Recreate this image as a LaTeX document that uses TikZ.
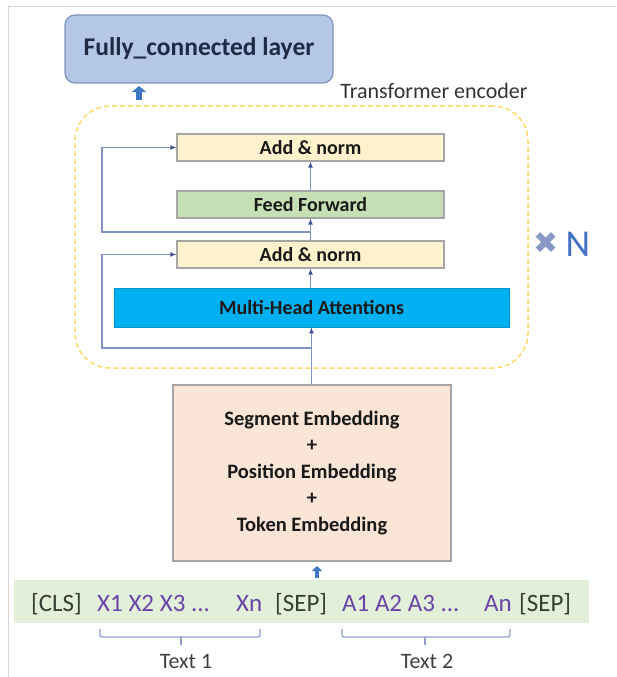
\documentclass[tikz,border=0pt]{standalone}
\usepackage{fontspec}
\setmainfont{Carlito}
\newfontfamily\symfont{DejaVu Sans}
\usetikzlibrary{arrows.meta,positioning}
\definecolor{framegray}{HTML}{D4D4D4}
\definecolor{fcfill}{HTML}{B4C7E7}
\definecolor{fcdraw}{HTML}{7F95BA}
\definecolor{fctext}{HTML}{1F2A44}
\definecolor{gold}{HTML}{FFD966}
\definecolor{anfill}{HTML}{FFF2CC}
\definecolor{fffill}{HTML}{C5E0B4}
\definecolor{mhfill}{HTML}{00B0F0}
\definecolor{embfill}{HTML}{FBE5D6}
\definecolor{boxdraw}{HTML}{A6A6A6}
\definecolor{bandfill}{HTML}{E2F0D9}
\definecolor{lineblue}{HTML}{8094CA}
\definecolor{tipblue}{HTML}{3F5393}
\definecolor{bigblue}{HTML}{3F78C4}
\definecolor{tokpurple}{HTML}{6A44A8}
\definecolor{tokdark}{HTML}{344034}
\definecolor{xgray}{HTML}{8799C4}
\definecolor{nblue}{HTML}{4472C4}
\definecolor{brk}{HTML}{8E9FC9}
\begin{document}
\begin{tikzpicture}[x=1pt,y=-1pt,
  lbl/.style={font=\fontsize{20}{24}\selectfont\bfseries, text=black!90},
  layerbox/.style={lbl, draw=boxdraw, line width=1.1pt, inner sep=0pt},
  conn/.style={draw=lineblue, line width=1.2pt, -{Latex[length=6pt,width=5pt,color=tipblue]}},
  bluearrow/.style={draw=bigblue, line width=6pt, -{Triangle[width=14pt,length=6pt]}},
  tok/.style={anchor=base west, inner sep=0pt, font=\fontsize{25}{28}\selectfont},
  brace/.style={draw=brk, line width=1.3pt, rounded corners=2pt}
]
\useasboundingbox (0,0) rectangle (616,677);
\fill[white] (0,0) rectangle (616,677);
\draw[framegray, line width=1pt] (8,677) -- (8,7) -- (616,7);

% fully connected
\node[draw=fcdraw, fill=fcfill, line width=1.2pt, rounded corners=10pt,
  minimum width=268pt, minimum height=68pt, inner sep=0pt,
  font=\fontsize{25.5}{28}\selectfont\bfseries, text=fctext] (fc) at (199,49) {Fully\_connected layer};
\coordinate (fa1) at (139,100);
\coordinate (fa2) at (139,86);
\draw[bluearrow] (fa1) -- (fa2);

% encoder frame
\node[draw=gold, dashed, dash pattern=on 5pt off 3pt, line width=1.5pt, rounded corners=35pt,
  minimum width=453pt, minimum height=262pt, inner sep=0pt] (enc) at (301.5,237) {};
\node[font=\fontsize{22}{25}\selectfont, text=black!80, inner sep=0pt] (enclbl) at (434,91) {Transformer encoder};
\node[font=\fontsize{30}{32}\selectfont\symfont, text=xgray, inner sep=0pt] (times) at (546,243) {✖};
\node[font=\fontsize{38}{40}\selectfont, text=nblue, inner sep=0pt] (nn) at (578,244) {N};

% layers
\node[layerbox, fill=anfill, minimum width=267pt, minimum height=27pt] (an2) at (310.5,147.5) {Add \& norm};
\node[layerbox, fill=fffill, minimum width=267pt, minimum height=27pt] (ff) at (310.5,204.5) {Feed Forward};
\node[layerbox, fill=anfill, minimum width=267pt, minimum height=27pt] (an1) at (310.5,254.5) {Add \& norm};
\node[lbl, fill=mhfill, draw=mhfill!85!black, line width=0.6pt, inner sep=0pt, minimum width=395pt, minimum height=39pt] (mha) at (311.5,307.5) {Multi-Head Attentions};

% embedding
\node[layerbox, fill=embfill, line width=1.4pt, minimum width=278pt, minimum height=176pt, align=center,
  font=\fontsize{20.5}{26.5}\selectfont\bfseries] (emb) at (312,473) {Segment Embedding\\+\\Position Embedding\\+\\Token Embedding};

% connectors
\draw[conn] (emb.north -| mha.south) -- (mha.south);
\draw[conn] (mha.north -| an1.south) -- (an1.south);
\draw[conn] (an1.north) -- (ff.south);
\draw[conn] (ff.north) -- (an2.south);
\coordinate (r1) at (311,348);
\coordinate (r1c) at (102,348);
\coordinate (r2) at (311,232);
\coordinate (r2c) at (102,232);
\draw[conn] (r1) -- (r1c) |- (an1.west);
\draw[conn] (r2) -- (r2c) |- (an2.west);

% input band
\node[fill=bandfill, minimum width=575pt, minimum height=43pt, inner sep=0pt] (band) at (301.5,601.5) {};
\coordinate (ea1) at (317,578);
\coordinate (ea2) at (317,566);
\draw[bigblue, line width=3.5pt, -{Triangle[width=10pt,length=5pt]}] (ea1) -- (ea2);
\node[tok, text=tokdark] (cls) at (31,611) {[CLS]};
\node[tok, text=tokpurple] (xs) at (97,611) {X1 X2 X3 ...};
\node[tok, text=tokpurple] (xn) at (236,611) {Xn};
\node[tok, text=tokdark] (sep1) at (275,611) {[SEP]};
\node[tok, text=tokpurple] (as) at (342,611) {A1 A2 A3 ...};
\node[tok, text=tokpurple] (an) at (484,611) {An};
\node[tok, text=tokdark] (sep2) at (519,611) {[SEP]};

% braces
\draw[brace] (100,629) -- (100,637) -- (260,637) -- (260,629);
\draw[brace] (181,637) -- (181,645);
\draw[brace] (342,629) -- (342,637) -- (510,637) -- (510,629);
\draw[brace] (425,637) -- (425,645);
\node[font=\fontsize{22}{24}\selectfont, text=black!75, inner sep=0pt] (t1) at (186,661) {Text 1};
\node[font=\fontsize{22}{24}\selectfont, text=black!75, inner sep=0pt] (t2) at (427,661) {Text 2};
\end{tikzpicture}
\end{document}
